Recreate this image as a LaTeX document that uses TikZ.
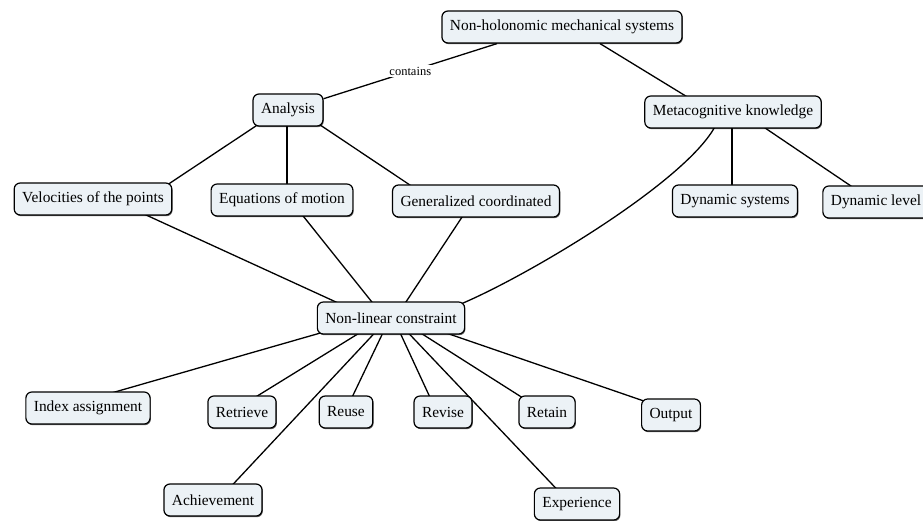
\documentclass[tikz,border=0pt]{standalone}
\usepackage{fontspec}
\setmainfont{Liberation Serif}
\usetikzlibrary{calc,shadows}
\definecolor{boxfill}{RGB}{236,242,246}
\pgfdeclarelayer{background}
\pgfsetlayers{background,main}
\tikzset{
  box/.style={draw, line width=1.2pt, rounded corners=6pt, fill=boxfill,
    inner xsep=8pt, inner ysep=4pt, minimum height=32pt,
    font=\fontsize{15.4}{18}\selectfont,
    drop shadow={shadow xshift=0.8pt, shadow yshift=-1.2pt, fill=black, opacity=0.6}},
  link/.style={line width=1.3pt},
  lbl/.style={fill=white, inner sep=2pt, font=\fontsize{12.5}{14}\selectfont}
}
\begin{document}
\begin{tikzpicture}[x=1pt,y=-1pt]
\useasboundingbox (0,0) rectangle (923,521);
% nodes
\node[box] (top)  at (562,27)  {Non-holonomic mechanical systems};
\node[box] (ana)  at (288,110) {Analysis};
\node[box] (meta) at (733,112) {Metacognitive knowledge};
\node[box] (vel)  at (93,199)  {Velocities of the points};
\node[box] (eq)   at (282,200) {Equations of motion};
\node[box] (gen)  at (476,201) {Generalized coordinated};
\node[box] (dsys) at (735,201) {Dynamic systems};
\node[box] (dlev) at (876,202) {Dynamic level};
\node[box] (nlc)  at (391,318) {Non-linear constraint};
\node[box] (idx)  at (88,408)  {Index assignment};
\node[box] (ret)  at (242,412) {Retrieve};
\node[box] (reu)  at (346,412) {Reuse};
\node[box] (rev)  at (443,412) {Revise};
\node[box] (rtn)  at (547,412) {Retain};
\node[box] (out)  at (671,415) {Output};
\node[box] (ach)  at (213,500) {Achievement};
\node[box] (exp)  at (577,504) {Experience};
% connectors
\begin{pgfonlayer}{background}
\draw[link] ($(top.south)+(-65,0)$) -- node[lbl]{contains} (ana);
\draw[link] ($(top.south)+(38,0)$) -- ($(meta.north)+(-45,2)$);
\draw[link] ($(ana.south)+(-30,-2)$) -- ($(vel.north)+(75,2)$);
\draw[link] ($(ana.south)+(-1,-2)$) -- ($(eq.north)+(5,2)$);
\draw[link] ($(ana.south east)+(-4,-2)$) -- ($(gen.north)+(-64,2)$);
\draw[link] ($(meta.south)+(-1,-2)$) -- ($(dsys.north)+(-3,2)$);
\draw[link] ($(meta.south)+(30,-2)$) -- ($(dlev.north)+(-23,2)$);
\draw[link] ($(meta.south)+(-18,-2)$) .. controls +(-30,55) and +(70,-30) .. ($(nlc.north east)+(-3,2)$);
\draw[link] ($(vel.south)+(50,-2)$) -- ($(nlc.north)+(-52,2)$);
\draw[link] ($(eq.south)+(20,-2)$) -- ($(nlc.north)+(-18,2)$);
\draw[link] ($(gen.south)+(-13,-2)$) -- ($(nlc.north)+(14,2)$);
\draw[link] ($(nlc.south west)+(5,-2)$) -- ($(idx.north)+(22,2)$);
\draw[link] ($(nlc.south)+(-31,-2)$) -- ($(ret.north)+(13,2)$);
\draw[link] ($(nlc.south)+(-16,-2)$) -- ($(ach.north)+(19,2)$);
\draw[link] ($(nlc.south)+(-8,-2)$) -- ($(reu.north)+(6,2)$);
\draw[link] ($(nlc.south)+(9,-2)$) -- ($(rev.north)+(-13,2)$);
\draw[link] ($(nlc.south)+(17,-2)$) -- ($(exp.north)+(-20,2)$);
\draw[link] ($(nlc.south)+(29,-2)$) -- ($(rtn.north)+(-25,2)$);
\draw[link] ($(nlc.south)+(54,-2)$) -- ($(out.north west)+(4,3)$);
\end{pgfonlayer}
\end{tikzpicture}
\end{document}
